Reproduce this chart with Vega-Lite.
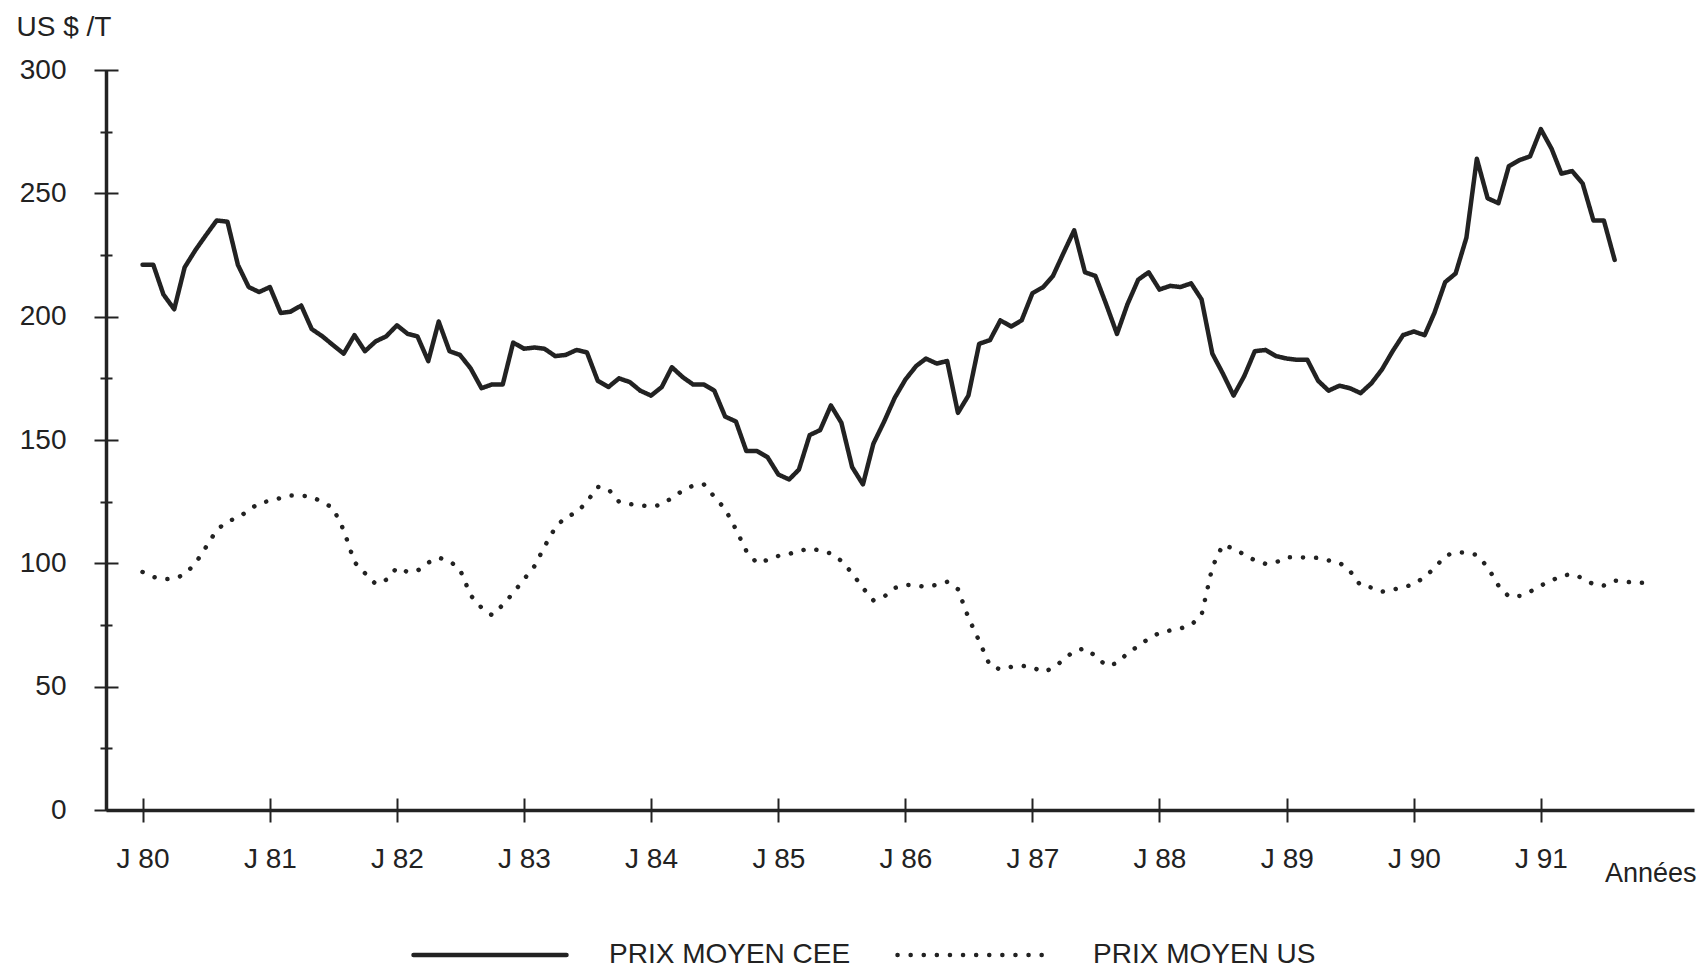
{
  "$schema": "https://vega.github.io/schema/vega-lite/v6.json",
  "width": 1588,
  "height": 740,
  "autosize": {"type": "none"},
  "padding": {"left": 106, "top": 70, "right": 11, "bottom": 159},
  "background": "white",
  "config": {"font": "Liberation Sans", "view": {"stroke": null}, "axis": {"grid": false}},
  "data": {"values": [
    {"date":"1980-01","cee":221,"us":96.5},{"date":"1980-02","cee":221,"us":94.5},{"date":"1980-03","cee":209,"us":93.5},{"date":"1980-04","cee":203,"us":93.8},{"date":"1980-05","cee":220,"us":95.5},{"date":"1980-06","cee":227,"us":100},{"date":"1980-07","cee":233,"us":106.5},{"date":"1980-08","cee":239,"us":113.5},{"date":"1980-09","cee":238.5,"us":117},{"date":"1980-10","cee":221,"us":118.5},{"date":"1980-11","cee":212,"us":121.5},{"date":"1980-12","cee":210,"us":124.5},
    {"date":"1981-01","cee":212,"us":125.3},{"date":"1981-02","cee":201.5,"us":126.5},{"date":"1981-03","cee":202,"us":127.5},{"date":"1981-04","cee":204.5,"us":127.5},{"date":"1981-05","cee":195,"us":127},{"date":"1981-06","cee":192,"us":124.8},{"date":"1981-07","cee":188.5,"us":122.5},{"date":"1981-08","cee":185,"us":113.5},{"date":"1981-09","cee":192.5,"us":100.5},{"date":"1981-10","cee":186,"us":96},{"date":"1981-11","cee":190,"us":91.6},{"date":"1981-12","cee":192,"us":93.3},
    {"date":"1982-01","cee":196.5,"us":98.2},{"date":"1982-02","cee":193,"us":96.5},{"date":"1982-03","cee":192,"us":97},{"date":"1982-04","cee":182,"us":100.3},{"date":"1982-05","cee":198,"us":102.3},{"date":"1982-06","cee":186,"us":101},{"date":"1982-07","cee":184.5,"us":97.5},{"date":"1982-08","cee":179,"us":87},{"date":"1982-09","cee":171,"us":82},{"date":"1982-10","cee":172.5,"us":79},{"date":"1982-11","cee":172.5,"us":83.1},{"date":"1982-12","cee":189.5,"us":88},
    {"date":"1983-01","cee":187,"us":93.5},{"date":"1983-02","cee":187.5,"us":99},{"date":"1983-03","cee":187,"us":106.8},{"date":"1983-04","cee":184,"us":114.5},{"date":"1983-05","cee":184.5,"us":118.8},{"date":"1983-06","cee":186.5,"us":120.5},{"date":"1983-07","cee":185.5,"us":125},{"date":"1983-08","cee":174,"us":131},{"date":"1983-09","cee":171.5,"us":130},{"date":"1983-10","cee":175,"us":125},{"date":"1983-11","cee":173.5,"us":124},{"date":"1983-12","cee":170,"us":123.5},
    {"date":"1984-01","cee":168,"us":123},{"date":"1984-02","cee":171.5,"us":123.8},{"date":"1984-03","cee":179.5,"us":126.5},{"date":"1984-04","cee":175.5,"us":129.5},{"date":"1984-05","cee":172.5,"us":131.5},{"date":"1984-06","cee":172.5,"us":132},{"date":"1984-07","cee":170,"us":127},{"date":"1984-08","cee":159.5,"us":122},{"date":"1984-09","cee":157.5,"us":113.8},{"date":"1984-10","cee":145.5,"us":105},{"date":"1984-11","cee":145.5,"us":100},{"date":"1984-12","cee":143,"us":101.4},
    {"date":"1985-01","cee":136,"us":103},{"date":"1985-02","cee":134,"us":103.8},{"date":"1985-03","cee":138,"us":105},{"date":"1985-04","cee":152,"us":106},{"date":"1985-05","cee":154,"us":105.2},{"date":"1985-06","cee":164,"us":104},{"date":"1985-07","cee":157,"us":101},{"date":"1985-08","cee":139,"us":96},{"date":"1985-09","cee":132,"us":90},{"date":"1985-10","cee":148.5,"us":85},{"date":"1985-11","cee":157.5,"us":86.5},{"date":"1985-12","cee":167,"us":90},
    {"date":"1986-01","cee":174.5,"us":91.3},{"date":"1986-02","cee":180,"us":91},{"date":"1986-03","cee":183,"us":90.5},{"date":"1986-04","cee":181,"us":91.3},{"date":"1986-05","cee":182,"us":92.5},{"date":"1986-06","cee":161,"us":89.5},{"date":"1986-07","cee":168,"us":78},{"date":"1986-08","cee":189,"us":68.5},{"date":"1986-09","cee":190.5,"us":58.5},{"date":"1986-10","cee":198.5,"us":57},{"date":"1986-11","cee":196,"us":58},{"date":"1986-12","cee":198.5,"us":58.5},
    {"date":"1987-01","cee":209.5,"us":57.8},{"date":"1987-02","cee":212,"us":56},{"date":"1987-03","cee":216.5,"us":57.5},{"date":"1987-04","cee":226,"us":61},{"date":"1987-05","cee":235,"us":64.5},{"date":"1987-06","cee":218,"us":65.5},{"date":"1987-07","cee":216.5,"us":62.5},{"date":"1987-08","cee":205,"us":58.5},{"date":"1987-09","cee":193,"us":59.5},{"date":"1987-10","cee":205,"us":63.5},{"date":"1987-11","cee":215,"us":66.5},{"date":"1987-12","cee":218,"us":69.5},
    {"date":"1988-01","cee":211,"us":71.8},{"date":"1988-02","cee":212.5,"us":72.8},{"date":"1988-03","cee":212,"us":73.6},{"date":"1988-04","cee":213.5,"us":75},{"date":"1988-05","cee":207,"us":79},{"date":"1988-06","cee":185,"us":98.5},{"date":"1988-07","cee":177,"us":107.5},{"date":"1988-08","cee":168,"us":106},{"date":"1988-09","cee":176,"us":103.5},{"date":"1988-10","cee":186,"us":101.2},{"date":"1988-11","cee":186.5,"us":99.8},{"date":"1988-12","cee":184,"us":100.4},
    {"date":"1989-01","cee":183,"us":102.5},{"date":"1989-02","cee":182.5,"us":102.5},{"date":"1989-03","cee":182.5,"us":102.3},{"date":"1989-04","cee":174,"us":102.2},{"date":"1989-05","cee":170,"us":101.2},{"date":"1989-06","cee":172,"us":100.3},{"date":"1989-07","cee":171,"us":97},{"date":"1989-08","cee":169,"us":91},{"date":"1989-09","cee":173,"us":90.2},{"date":"1989-10","cee":178.5,"us":88.5},{"date":"1989-11","cee":186,"us":89.3},{"date":"1989-12","cee":192.5,"us":90.3},
    {"date":"1990-01","cee":194,"us":91.5},{"date":"1990-02","cee":192.5,"us":94.5},{"date":"1990-03","cee":201.5,"us":98},{"date":"1990-04","cee":214,"us":103},{"date":"1990-05","cee":217.5,"us":104.5},{"date":"1990-06","cee":232,"us":104.3},{"date":"1990-07","cee":264,"us":103.4},{"date":"1990-08","cee":248,"us":98.5},{"date":"1990-09","cee":246,"us":91},{"date":"1990-10","cee":261,"us":86.5},{"date":"1990-11","cee":263.5,"us":86.8},{"date":"1990-12","cee":265,"us":88.5},
    {"date":"1991-01","cee":276,"us":91},{"date":"1991-02","cee":268,"us":93},{"date":"1991-03","cee":258,"us":95},{"date":"1991-04","cee":259,"us":95.6},{"date":"1991-05","cee":254,"us":94},{"date":"1991-06","cee":239,"us":91.5},{"date":"1991-07","cee":239,"us":91},{"date":"1991-08","cee":223,"us":93},{"date":"1991-09","cee":null,"us":92.6},{"date":"1991-10","cee":null,"us":92},{"date":"1991-11","cee":null,"us":92.2}
  ]},
  "transform": [{"fold": ["cee", "us"], "as": ["serie", "prix"]}],
  "layer": [
    {
      "mark": {"type": "line", "color": "#222", "strokeWidth": 4.5, "strokeCap": "round", "strokeJoin": "round"},
      "encoding": {
        "x": {
          "field": "date", "type": "temporal",
          "scale": {"type": "utc", "nice": false, "domain": [{"year": 1979, "month": 9, "date": 18, "utc": true}, {"year": 1992, "month": 3, "date": 16, "utc": true}]},
          "axis": {
            "orient": "bottom", "domain": false, "offset": -12, "tickSize": 24, "tickWidth": 2, "tickColor": "#222",
            "values": [{"year":1980,"month":1,"date":1,"utc":true},{"year":1981,"month":1,"date":1,"utc":true},{"year":1982,"month":1,"date":1,"utc":true},{"year":1983,"month":1,"date":1,"utc":true},{"year":1984,"month":1,"date":1,"utc":true},{"year":1985,"month":1,"date":1,"utc":true},{"year":1986,"month":1,"date":1,"utc":true},{"year":1987,"month":1,"date":1,"utc":true},{"year":1988,"month":1,"date":1,"utc":true},{"year":1989,"month":1,"date":1,"utc":true},{"year":1990,"month":1,"date":1,"utc":true},{"year":1991,"month":1,"date":1,"utc":true}],
            "labelExpr": "'J ' + utcFormat(datum.value, '%y')",
            "labelFontSize": 28, "labelColor": "#222", "labelPadding": 23, "labelFlush": false, "labelOverlap": false,
            "title": null, "grid": false
          }
        },
        "y": {
          "field": "prix", "type": "quantitative",
          "scale": {"domain": [0, 300], "nice": false},
          "axis": {
            "orient": "left", "domain": false, "offset": -12, "tickSize": 24, "tickWidth": 2, "tickColor": "#222",
            "values": [0, 25, 50, 75, 100, 125, 150, 175, 200, 225, 250, 275, 300],
            "tickDash": {"condition": {"test": "datum.value % 50 !== 0", "value": [0, 6, 12, 6]}, "value": []},
            "labelExpr": "datum.value % 50 === 0 ? datum.label : ''",
            "labelFontSize": 28, "labelColor": "#222", "labelPadding": 28,
            "title": null, "grid": false
          }
        },
        "strokeDash": {
          "field": "serie", "type": "nominal",
          "scale": {"domain": ["cee", "us"], "range": [[1, 0], [0.1, 13]]},
          "legend": {
            "orient": "none", "legendX": 305, "legendY": 868, "direction": "horizontal", "title": null,
            "symbolType": "stroke", "symbolSize": 23409, "symbolStrokeWidth": 4.5, "symbolStrokeColor": "#222",
            "clipHeight": 34,
            "labelFontSize": 28, "labelColor": "#222", "labelOffset": 40, "columnPadding": 44, "labelLimit": 400,
            "labelExpr": "datum.label === 'cee' ? 'PRIX MOYEN CEE' : 'PRIX MOYEN US'",
            "encode": {"symbols": {"update": {"strokeCap": {"value": "round"}}}}
          }
        }
      }
    },
    {
      "mark": {"type": "point", "opacity": 0},
      "encoding": {
        "x": {
          "field": "date", "type": "temporal",
          "axis": {
            "orient": "bottom", "domain": true, "domainWidth": 3.5, "domainColor": "#222", "ticks": false, "labels": false,
            "title": "Années", "titleFontSize": 27, "titleFontWeight": "normal", "titleColor": "#222",
            "titleX": 1590, "titleY": 63, "titleAlign": "right", "titleBaseline": "middle", "titleAnchor": null, "grid": false
          }
        },
        "y": {
          "field": "prix", "type": "quantitative",
          "axis": {
            "orient": "left", "domain": true, "domainWidth": 3.5, "domainColor": "#222", "ticks": false, "labels": false,
            "title": "US $ /T", "titleFontSize": 28, "titleFontWeight": "normal", "titleColor": "#222",
            "titleAngle": 0, "titleAlign": "left", "titleBaseline": "middle", "titleX": -90, "titleY": -43, "grid": false
          }
        }
      }
    }
  ],
  "resolve": {"axis": {"x": "independent", "y": "independent"}}
}
